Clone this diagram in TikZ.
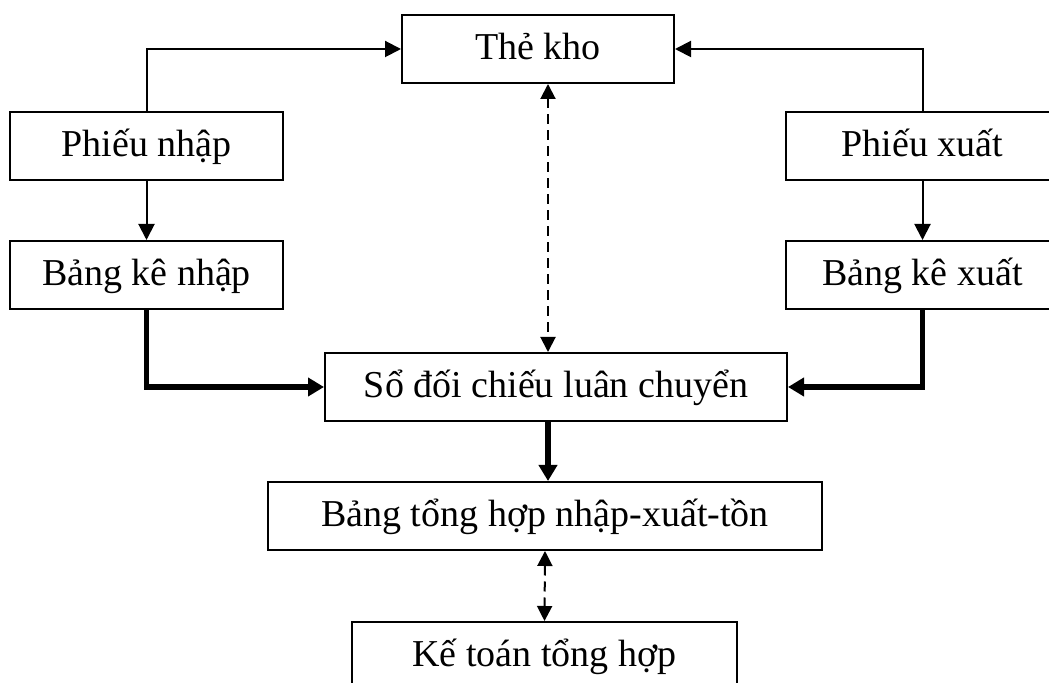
\documentclass[tikz,border=0pt]{standalone}
\usepackage{fontspec}
\setmainfont{Liberation Serif}
\usetikzlibrary{arrows.meta}
\tikzset{
  box/.style={draw, line width=1pt, rectangle, inner sep=0pt, minimum height=34pt,
    text height=1.2em, text depth=0.18em, font=\fontsize{19}{22}\selectfont},
  thin/.style={line width=1pt, -{Triangle[length=8pt,width=8pt]}},
  thick/.style={line width=2.8pt, -{Triangle[length=8pt,width=9pt]}},
  dashlink/.style={line width=1pt, dash pattern=on 5pt off 3pt,
    {Triangle[length=7.5pt,width=7.5pt]}-{Triangle[length=7.5pt,width=7.5pt]}}
}
\begin{document}
\begin{tikzpicture}[x=0.5pt,y=-0.5pt]
\clip (0,0) rectangle (1049,683);
\fill[white] (0,0) rectangle (1049,683);
\node[box, minimum width=136pt] (kho) at (538,49) {Thẻ kho};
\node[box, minimum width=136.5pt] (pn) at (146.5,146) {Phiếu nhập};
\node[box, minimum width=136.5pt] (bkn) at (146.5,275) {Bảng kê nhập};
\node[box, minimum width=136.5pt] (px) at (922.5,146) {Phiếu xuất};
\node[box, minimum width=136.5pt] (bkx) at (922.5,275) {Bảng kê xuất};
\node[box, minimum width=231pt] (so) at (556,387) {Sổ đối chiếu luân chuyển};
\node[box, minimum width=277pt] (bth) at (545,516) {Bảng tổng hợp nhập-xuất-tồn};
\node[box, minimum width=192.5pt] (kt) at (544.5,656) {Kế toán tổng hợp};
\coordinate (dx) at (548,0);
\draw[thin] (pn.north) |- (kho.west);
\draw[thin] (px.north) |- (kho.east);
\draw[thin] (pn) -- (bkn);
\draw[thin] (px) -- (bkx);
\draw[thick] (bkn.south) |- (so.west);
\draw[thick] (bkx.south) |- (so.east);
\draw[dashlink] (kho.south -| dx) -- (so.north -| dx);
\draw[thick] (so.south -| dx) -- (bth.north -| dx);
\draw[dashlink] (bth.south) -- (kt.north);
\end{tikzpicture}
\end{document}
